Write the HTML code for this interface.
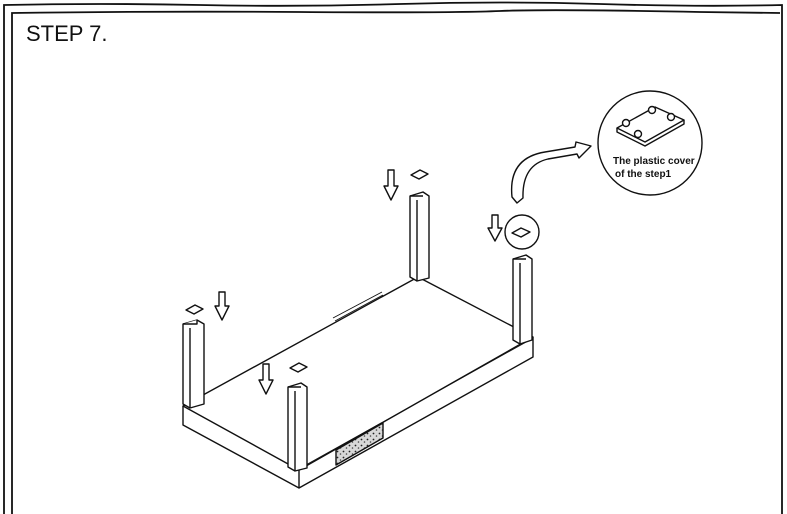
<!DOCTYPE html>
<html><head><style>
html,body{margin:0;padding:0;background:#fff;width:787px;height:514px;overflow:hidden}
svg{display:block}
</style></head><body>
<svg width="787" height="514" viewBox="0 0 787 514" xmlns="http://www.w3.org/2000/svg">
<defs>
<pattern id="st" width="6" height="6" patternUnits="userSpaceOnUse">
<rect width="6" height="6" fill="#d8d8d8"/>
<circle cx="1.5" cy="1.5" r="0.9" fill="#222"/><circle cx="4.5" cy="4" r="0.8" fill="#444"/>
</pattern>
</defs>
<g fill="none" stroke="#111" stroke-width="1.8">
<path d="M4,514 V5 Q100,3 200,5 T400,4 T600,4 T782,5 V514"/>
<path d="M12,514 V13 Q150,11 300,12 T500,11 T700,12 L780,13"/>
</g>
<text x="26" y="41" font-family="Liberation Sans, sans-serif" font-size="22" fill="#111">STEP 7.</text>

<g fill="none" stroke="#111" stroke-width="1.4" stroke-linejoin="round">
<path d="M183,406 L418,277 L533,337 L299,470 Z" fill="#fff"/>
<path d="M183,406 V425 L299,488 L533,357 V337"/>
<path d="M299,470 V488"/>
<path d="M304,466 L528,341" stroke-width="0.8"/>
<path d="M333,318 L382,292 M335,321 L383,295" stroke-width="0.9"/>
<path d="M336,450 L383,423 L383,438 L336,465 Z" fill="url(#st)"/>
<g fill="#fff">
<path d="M183,324 L197,320 L204,324 V404 L190,408 L183,404 Z"/>
<path d="M190,328 V408 M197,320 V324 L183,324" />
<path d="M288,387 L301,383 L307,387 V468 L295,471 L288,467 Z"/>
<path d="M295,391 V471 M288,387 L301,387"/>
<path d="M410,196 L423,192 L429,196 V278 L417,281 L410,277 Z"/>
<path d="M417,200 V281 M410,196 L423,196"/>
<path d="M513,259 L526,255 L532,259 V340 L520,344 L513,340 Z"/>
<path d="M520,263 V344 M513,259 L526,259"/>
</g>
<path d="M186,310 L195,305 L203,309 L194,314 Z"/>
<path d="M290,368 L299,363 L307,367 L298,372 Z"/>
<path d="M411,175 L420,170 L428,174 L419,179 Z"/>
<circle cx="522" cy="232" r="17"/>
<path d="M512,233 L521,228 L530,232 L521,237 Z"/>
<path d="M219,292 H225 V306 H229 L222,320 L215,306 H219 Z"/>
<path d="M263,364 H269 V380 H273 L266,394 L259,380 H263 Z"/>
<path d="M388,170 H394 V186 H398 L391,200 L384,186 H388 Z"/>
<path d="M492,215 H498 V228 H502 L495,241 L488,228 H492 Z"/>
<path d="M517,203 L512,197 Q508,158 545,152 L575,147 L576,142 L591,146 L579,158 L577,154 L548,159 Q522,165 523,198 Z"/>
<circle cx="650" cy="143" r="52"/>
<path d="M617,128 L655,107 L684,120 L645,142 Z" fill="#fff"/>
<path d="M617,128 V132 L645,146 L684,124 V120" />
<g fill="#fff"><circle cx="626" cy="123" r="3.5"/><circle cx="652" cy="110" r="3.5"/><circle cx="671" cy="117" r="3.5"/><circle cx="638" cy="134" r="3.5"/></g>
</g>
<text x="613" y="164" font-family="Liberation Sans, sans-serif" font-size="10" font-weight="bold" fill="#111">The plastic cover</text>
<text x="615" y="177" font-family="Liberation Sans, sans-serif" font-size="10" font-weight="bold" fill="#111">of the step1</text>
</svg>
</body></html>
